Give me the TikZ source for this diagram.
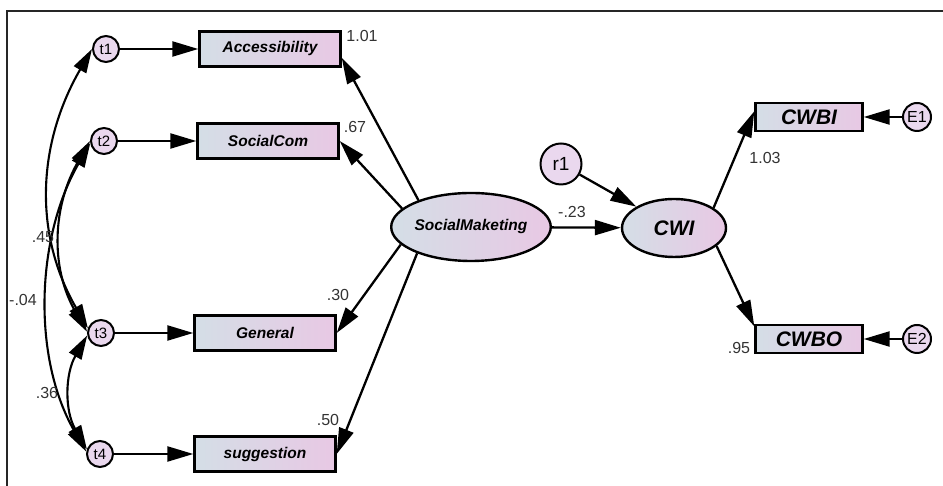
\documentclass[tikz,border=0pt]{standalone}
\usepackage{fontspec}
\setmainfont{Liberation Sans}
\usetikzlibrary{arrows.meta,shapes.geometric}
\definecolor{fillL}{RGB}{212,222,230}
\definecolor{fillR}{RGB}{232,200,228}
\definecolor{errfill}{RGB}{234,216,238}
\tikzset{
  obs/.style={draw, line width=2.4pt, left color=fillL, right color=fillR,
    minimum width=141pt, minimum height=35pt, inner sep=0pt,
    font=\fontsize{15.5}{18}\selectfont\bfseries\itshape},
  err/.style={circle, draw, line width=2pt, fill=errfill, minimum size=26pt,
    inner sep=0pt, font=\fontsize{15}{17}\selectfont},
  lat/.style={ellipse, draw, line width=2.4pt, left color=fillL, right color=fillR,
    inner sep=0pt},
  arr/.style={line width=2.3pt, -{Triangle[length=26pt,width=15pt]}},
  cov/.style={line width=2.1pt,
    {Triangle[length=24pt,width=14pt]}-{Triangle[length=24pt,width=14pt]},
    out=240, in=120},
  est/.style={font=\fontsize{16}{18}\selectfont, text=black!80, inner sep=0pt}
}
\begin{document}
\begin{tikzpicture}[x=1pt,y=1pt]
  \useasboundingbox (0,0) rectangle (943,486);
  \draw[line width=1.8pt, black!85] (7,0) -- (7,475) -- (943,475);
  % indicators and their errors
  \foreach \n/\tx/\bx/\y/\lab in {1/106/270/437/Accessibility, 2/104/268/345/SocialCom,
      3/101/265/153/General, 4/100/265/32/suggestion} {%
    \node[err] (t\n) at (\tx,\y) {t\n};
    \node[obs] (b\n) at (\bx,\y) {\lab};
    \draw[arr] (t\n) -- (b\n);
  }
  \node[lat, minimum width=158pt, minimum height=68pt,
    font=\fontsize{15.5}{18}\selectfont\bfseries\itshape] (sm) at (471,259) {SocialMaketing};
  \node[lat, minimum width=104pt, minimum height=58pt,
    font=\fontsize{21}{24}\selectfont\bfseries\itshape] (cwi) at (674,258) {CWI};
  \node[err, minimum size=41pt, font=\fontsize{19}{21}\selectfont] (r1) at (561,322) {r1};
  \node[obs, minimum width=107pt, minimum height=28pt,
    font=\fontsize{21}{24}\selectfont\bfseries\itshape] (cwbi) at (809,369) {CWBI};
  \node[obs, minimum width=107pt, minimum height=28pt,
    font=\fontsize{21}{24}\selectfont\bfseries\itshape] (cwbo) at (809,147) {CWBO};
  \node[err, minimum size=28pt, font=\fontsize{16}{18}\selectfont] (e1) at (917,369) {E1};
  \node[err, minimum size=28pt, font=\fontsize{16}{18}\selectfont] (e2) at (917,147) {E2};
  % loadings
  \draw[arr] (sm.153) -- (b1.-7);
  \draw[arr] (sm.165) -- (b2.east);
  \draw[arr] (sm.194) -- (b3.east);
  \draw[arr] (sm.206) -- (b4.east);
  \draw[arr] (sm) -- (cwi);
  \draw[arr] (r1) -- (cwi);
  \draw[arr] (cwi.27) -- (cwbi.174);
  \draw[arr] (cwi.-23) -- (cwbo.167);
  \draw[arr] (e1) -- (cwbi);
  \draw[arr] (e2) -- (cwbo);
  % covariances
  \draw[cov] (t1.west) to (t3.160);
  \draw[cov] (t2.west) to (t3.175);
  \draw[cov, looseness=0.9] (t2.190) to (t4.170);
  \draw[cov] (t3.190) to (t4.160);
  % estimates
  \node[est] (l1) at (362,450) {1.01};
  \node[est] (l2) at (355,359) {.67};
  \node[est] (l3) at (338,191) {.30};
  \node[est] (l4) at (328,66) {.50};
  \node[est] (l5) at (43,249) {.45};
  \node[est] (l6) at (23,186) {-.04};
  \node[est] (l7) at (47,93) {.36};
  \node[est] (l8) at (572,274) {-.23};
  \node[est] (l9) at (765,328) {1.03};
  \node[est] (l10) at (739,138) {.95};
\end{tikzpicture}
\end{document}
